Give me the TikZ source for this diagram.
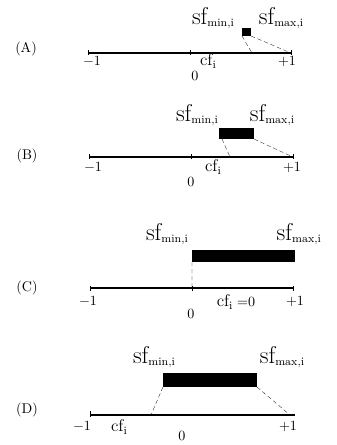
\documentclass[tikz,border=0pt]{standalone}
\usetikzlibrary{calc}
\newcommand{\sflab}[1]{{\LARGE sf}\raisebox{-0.35ex}{\footnotesize #1}}
\newcommand{\cflab}{{\large cf}\raisebox{-0.45ex}{\footnotesize i}}
\tikzset{
  axis/.style={line width=1.1pt},
  tick/.style={thin},
  sfbar/.style={fill=black,draw=none,inner sep=0pt,outer sep=0pt},
  proj/.style={densely dashed,very thin},
  txt/.style={inner sep=1pt},
}
\begin{document}
\begin{tikzpicture}[x=0.025cm,y=-0.025cm]
 \useasboundingbox (0,0) rectangle (336,445);
 % (A)
 \node[txt] (labA) at (26,49) {(A)};
 \coordinate (Am) at (88,53);
 \coordinate (Az) at (190,53);
 \coordinate (Ap) at (291,53);
 \coordinate (Acf) at (252,53);
 \draw[axis] (Am) -- (Ap);
 \foreach \c in {Am,Az,Ap} \draw[tick] ($(\c)+(0,-2.5)$) -- ($(\c)+(0,2.5)$);
 \node[txt] (Amlab) at (92,62) {$-1$};
 \node[txt] (Azlab) at (195,76) {$0$};
 \node[txt] (Acflab) at (208,61) {\cflab};
 \node[txt] (Aplab) at (287,62) {$+1$};
 \node[sfbar,minimum width=0.225cm,minimum height=0.2cm] (rA) at (246.5,32) {};
 \node[txt] (Amin) at (213,18) {\sflab{min,i}};
 \node[txt] (Amax) at (281,18) {\sflab{max,i}};
 \draw[proj] (rA.south west) -- (Acf);
 \draw[proj] (rA.south east) -- (Ap);
 % (B)
 \node[txt] (labB) at (27,156) {(B)};
 \coordinate (Bm) at (89,157);
 \coordinate (Bz) at (191,157);
 \coordinate (Bp) at (293,157);
 \coordinate (Bcf) at (230,157);
 \draw[axis] (Bm) -- (Bp);
 \foreach \c in {Bm,Bz,Bp} \draw[tick] ($(\c)+(0,-3)$) -- ($(\c)+(0,2)$);
 \node[txt] (Bmlab) at (93,168) {$-1$};
 \node[txt] (Bzlab) at (191,182) {$0$};
 \node[txt] (Bcflab) at (213,167) {\cflab};
 \node[txt] (Bplab) at (292,168) {$+1$};
 \node[sfbar,minimum width=0.875cm,minimum height=0.275cm] (rB) at (236.5,133.5) {};
 \node[txt] (Bmin) at (197,115) {\sflab{min,i}};
 \node[txt] (Bmax) at (272,115) {\sflab{max,i}};
 \draw[proj] ([xshift=0.075cm]rB.south west) -- (Bcf);
 \draw[proj] (rB.south east) -- (Bp);
 % (C)
 \node[txt] (labC) at (27,288) {(C)};
 \coordinate (Cm) at (90,288);
 \coordinate (Cz) at (192,288);
 \coordinate (Cp) at (293,288);
 \draw[axis] (Cm) -- (Cp);
 \foreach \c in {Cm,Cz,Cp} \draw[tick] ($(\c)+(0,-2.5)$) -- ($(\c)+(0,2.5)$);
 \node[txt] (Cmlab) at (88,302) {$-1$};
 \node[txt] (Czlab) at (191,314) {$0$};
 \node[txt] (Ccflab) at (236,302) {\cflab\ $=$0};
 \node[txt] (Cplab) at (295,302) {$+1$};
 \node[sfbar,minimum width=2.575cm,minimum height=0.3cm] (rC) at (243.5,256) {};
 \node[txt] (Cmin) at (167,234) {\sflab{min,i}};
 \node[txt,anchor=west] (Cmax) at (275,234) {\sflab{max,i}};
 \draw[proj] (rC.south west) -- (Cz);
 % (D)
 \node[txt] (labD) at (27,410) {(D)};
 \coordinate (Dm) at (90,415);
 \coordinate (Dp) at (295,415);
 \coordinate (Dl) at (151,415);
 \coordinate (Dr) at (290,415);
 \draw[axis] (Dm) -- (Dp);
 \draw[tick] ($(Dm)+(0,-4)$) -- ($(Dm)+(0,2)$);
 \node[txt] (Dmlab) at (82,427) {$-1$};
 \node[txt] (Dcflab) at (119,427) {\cflab};
 \node[txt] (Dzlab) at (182,436) {$0$};
 \node[txt] (Dplab) at (288,427) {$+1$};
 \node[sfbar,minimum width=2.35cm,minimum height=0.35cm] (rD) at (210,380) {};
 \node[txt] (Dmin) at (154,357) {\sflab{min,i}};
 \node[txt] (Dmax) at (282,357) {\sflab{max,i}};
 \draw[proj] (rD.south west) -- (Dl);
 \draw[proj] (rD.south east) -- (Dr);
\end{tikzpicture}
\end{document}
